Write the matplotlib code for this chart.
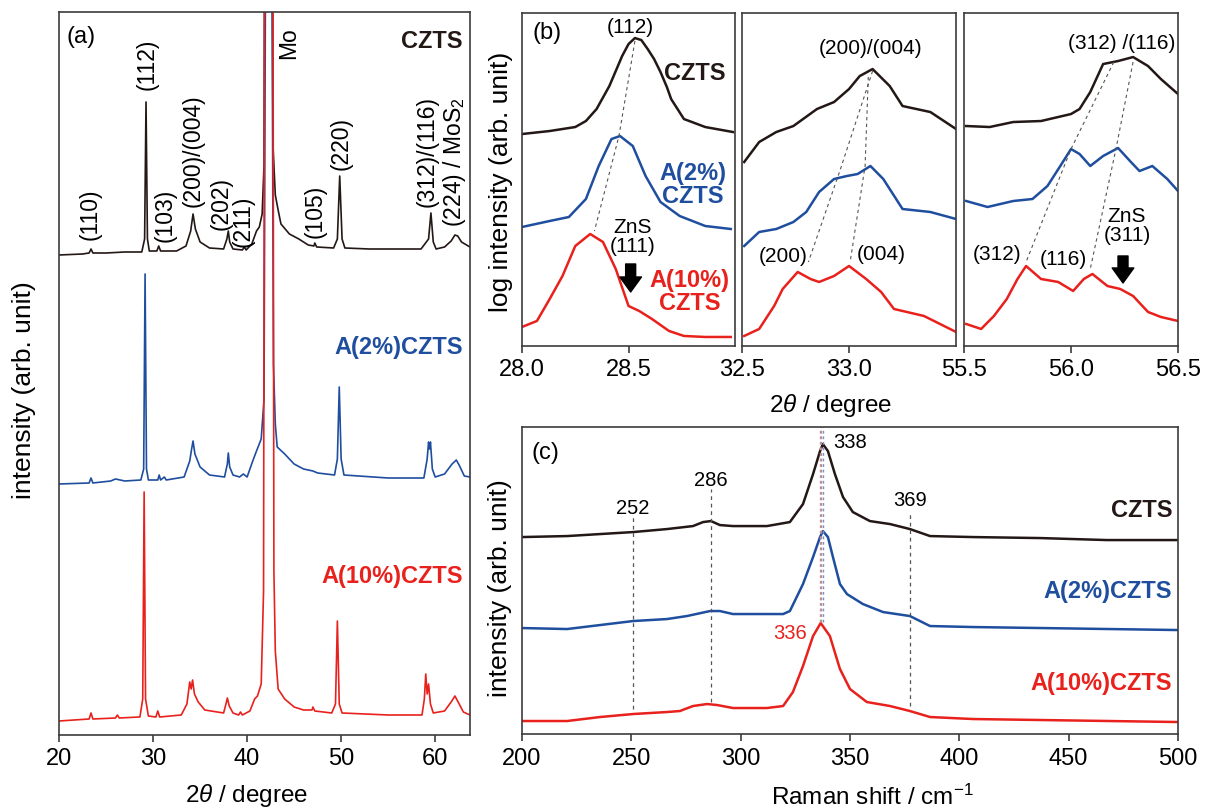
import matplotlib.pyplot as plt

plt.rcParams['font.family'] = ['Liberation Sans', 'DejaVu Sans']
plt.rcParams['mathtext.fontset'] = 'custom'
plt.rcParams['mathtext.rm'] = 'Liberation Sans'
plt.rcParams['mathtext.it'] = 'Liberation Sans:italic'

BLACK = '#231815'
BLUE = '#1f4e9f'
RED = '#e8211d'
SPINE = '#3c3c3c'
GUIDE = '#555555'

samples = ['CZTS', 'A(2%)CZTS', 'A(10%)CZTS']
colors = [BLACK, BLUE, RED]

# (a) XRD, intensity above background (arb.)
tt_czts = [20.0, 22.5, 23.2, 23.4, 23.6, 25.0, 27.0, 28.8, 29.1, 29.25, 29.4, 29.6, 30.4, 30.6, 30.8,
           32.5, 33.5, 34.0, 34.25, 34.5, 35.0, 36.0, 37.5, 37.85, 38.0, 38.15, 38.5, 39.5, 39.7, 39.9,
           40.5, 41.0, 41.3, 41.6, 41.8, 41.88, 42.65, 42.75, 43.0, 43.3, 43.6, 44.5, 45.5, 46.5, 47.1,
           47.2, 47.4, 49.2, 49.6, 49.85, 50.1, 50.4, 53.0, 56.0, 58.5, 59.3, 59.55, 59.8, 60.1, 61.0,
           61.7, 62.1, 62.4, 62.8, 63.7]
int_czts = [0, 1, 2, 6, 2, 2, 3, 3, 16, 153, 16, 4, 4, 9, 4,
            4, 9, 24, 41, 26, 13, 7, 6, 16, 24, 13, 6, 5, 8, 5,
            11, 24, 28, 41, 90, 400, 400, 110, 60, 45, 31, 21, 16, 10, 9,
            12, 8, 7, 16, 79, 16, 7, 6, 6, 6, 16, 42, 13, 6, 8,
            14, 20, 19, 13, 8]

tt_a2 = [20.0, 23.2, 23.4, 23.6, 25.5, 26.0, 27.0, 28.7, 29.0, 29.15, 29.3, 29.5, 30.5, 30.65, 30.8,
         31.2, 31.4, 33.3, 33.9, 34.1, 34.25, 34.45, 35.0, 36.0, 37.6, 37.9, 38.0, 38.15, 38.5, 39.2,
         39.6, 40.0, 40.6, 41.0, 41.5, 41.8, 41.95, 42.65, 42.8, 43.0, 43.2, 44.0, 45.0, 46.0, 47.0,
         47.5, 49.3, 49.6, 49.8, 50.0, 50.3, 55.0, 58.8, 59.15, 59.3, 59.4, 59.5, 59.7, 60.0, 61.0,
         61.8, 62.25, 62.6, 63.1, 63.7]
int_a2 = [0, 1, 6, 1, 3, 5, 3, 4, 15, 210, 15, 4, 4, 9, 4,
          7, 4, 7, 23, 35, 43, 30, 17, 9, 7, 20, 31, 17, 9, 7,
          10, 7, 23, 33, 45, 85, 500, 500, 120, 60, 37, 30, 20, 15, 13,
          11, 9, 25, 97, 25, 9, 6, 6, 25, 42, 35, 42, 15, 7, 10,
          20, 24, 18, 8, 7]

tt_a10 = [20.0, 23.2, 23.4, 23.6, 26.0, 26.2, 26.4, 28.6, 28.9, 29.05, 29.2, 29.5, 30.3, 30.5, 30.7,
          33.0, 33.6, 33.9, 34.05, 34.2, 34.4, 34.8, 35.5, 37.5, 37.75, 37.9, 38.1, 38.5, 39.1, 39.3,
          39.5, 40.3, 40.8, 41.1, 41.5, 41.75, 41.85, 42.75, 42.85, 43.0, 43.3, 44.0, 45.0, 46.0, 46.9,
          47.0, 47.2, 49.0, 49.4, 49.6, 49.8, 50.1, 55.0, 58.6, 58.85, 59.0, 59.15, 59.3, 59.5, 59.8,
          61.0, 61.7, 62.1, 62.5, 63.0, 63.7]
int_a10 = [0, 2, 8, 2, 3, 6, 3, 4, 22, 229, 22, 5, 4, 10, 4,
           6, 17, 39, 32, 41, 27, 19, 11, 8, 17, 23, 15, 8, 6, 9,
           6, 10, 22, 25, 37, 130, 760, 760, 150, 70, 32, 22, 14, 11, 11,
           14, 10, 8, 17, 100, 17, 8, 6, 6, 22, 47, 27, 37, 17, 8,
           10, 19, 25, 18, 9, 6]
xrd_offsets = [480, 251, 14]

xrd_peaks = ['(110)', '(112)', '(103)', '(200)/(004)', '(202)', '(211)', '(105)', '(220)',
             '(312)/(116)', '(224) / MoS$_2$']
xrd_peak_x = [23.3, 29.35, 31.3, 34.3, 37.2, 39.6, 47.2, 50.0, 59.1, 62.1]
xrd_peak_y = [496, 646, 494, 529, 506, 489, 498, 566, 529, 509]

# (b) zoomed XRD windows, log intensity (arb.)
b1_x_czts = [28.00, 28.13, 28.25, 28.30, 28.35, 28.41, 28.44, 28.47, 28.50, 28.53, 28.56, 28.59,
             28.62, 28.65, 28.68, 28.70, 28.73, 28.76, 28.86, 28.99]
b1_y_czts = [212, 215, 219, 225, 237, 260, 275, 290, 302, 308, 306, 297, 287, 274, 259, 247, 237,
             227, 219, 214]
b1_x_a2 = [28.00, 28.13, 28.22, 28.30, 28.36, 28.42, 28.46, 28.52, 28.58, 28.65, 28.74, 28.86, 28.98]
b1_y_a2 = [119, 125, 129, 147, 180, 207, 210, 200, 170, 144, 130, 120, 117]
b1_x_a10 = [28.00, 28.07, 28.13, 28.19, 28.25, 28.32, 28.38, 28.44, 28.50, 28.55, 28.61, 28.69,
            28.76, 28.86, 28.98]
b1_y_a10 = [19, 25, 47, 70, 100, 112, 104, 77, 40, 35, 27, 15, 10, 9, 9]

b2_x_czts = [32.51, 32.58, 32.66, 32.74, 32.85, 32.93, 33.00, 33.05, 33.11, 33.19, 33.25, 33.38, 33.50]
b2_y_czts = [184, 204, 214, 220, 237, 244, 257, 270, 277, 260, 240, 234, 217]
b2_x_a2 = [32.51, 32.58, 32.66, 32.74, 32.80, 32.86, 32.93, 32.99, 33.04, 33.10, 33.16, 33.25,
           33.38, 33.50]
b2_y_a2 = [100, 114, 117, 124, 134, 154, 167, 170, 172, 180, 167, 137, 134, 127]
b2_x_a10 = [32.51, 32.58, 32.65, 32.69, 32.76, 32.82, 32.86, 32.93, 33.00, 33.08, 33.15, 33.21,
            33.35, 33.50]
b2_y_a10 = [10, 17, 40, 57, 74, 67, 64, 70, 80, 67, 54, 37, 30, 14]

b3_x_czts = [55.51, 55.62, 55.73, 55.86, 56.00, 56.04, 56.09, 56.15, 56.22, 56.29, 56.36, 56.42, 56.50]
b3_y_czts = [220, 219, 224, 225, 232, 237, 254, 282, 285, 289, 280, 267, 252]
b3_x_a2 = [55.51, 55.61, 55.73, 55.82, 55.89, 55.95, 56.00, 56.04, 56.09, 56.15, 56.22, 56.28,
           56.32, 56.38, 56.45, 56.50]
b3_y_a2 = [145, 139, 145, 147, 160, 180, 197, 192, 180, 190, 198, 184, 175, 180, 167, 155]
b3_x_a10 = [55.51, 55.58, 55.64, 55.70, 55.75, 55.79, 55.86, 55.94, 56.01, 56.06, 56.10, 56.17,
            56.23, 56.29, 56.36, 56.42, 56.50]
b3_y_a10 = [22, 17, 30, 47, 67, 80, 67, 64, 55, 67, 72, 60, 57, 50, 34, 29, 25]

# peak-shift guide lines (peak positions of each sample)
b1_guide_x = [28.53, 28.455, 28.34]
b1_guide_y = [305, 210, 115]
b2_guide_a_x = [33.11, 32.96, 32.81]
b2_guide_a_y = [275, 177, 84]
b2_guide_b_x = [33.09, 33.075, 33.005]
b2_guide_b_y = [269, 180, 84]
b3_guide_a_x = [56.20, 56.00, 55.79]
b3_guide_a_y = [284, 197, 84]
b3_guide_b_x = [56.29, 56.21, 56.09]
b3_guide_b_y = [284, 197, 77]

# (c) Raman
raman_czts = [200, 220.6, 235.7, 250.8, 266.3, 278.2, 282.8, 286.4, 290.5, 296.5, 312.0, 322.5,
              328.5, 333.1, 336.3, 337.6, 339.9, 343.1, 346.8, 351.3, 359.1, 368.3, 377.4, 386.6,
              406.2, 436.9, 467.5, 500]
ram_int_czts = [197, 198, 200, 202, 205, 208, 212, 213, 209, 208, 208, 212,
                230, 260, 283, 290, 283, 260, 237, 222, 213, 210, 205, 198,
                197, 196, 194, 194]
raman_a2 = [200, 220.6, 235.7, 250.8, 266.3, 275.4, 286.0, 290.5, 296.5, 305.7, 319.4, 322.5,
            328.5, 333.1, 336.3, 337.6, 339.9, 342.2, 345.4, 348.6, 355.9, 365.1, 377.4, 386.6,
            406.2, 500]
ram_int_a2 = [106, 105, 109, 113, 115, 118, 123, 123, 120, 120, 120, 123,
              150, 177, 197, 203, 197, 177, 150, 140, 130, 122, 118, 108,
              107, 104]
raman_a10 = [200, 220.6, 235.7, 250.8, 266.3, 272.2, 278.2, 284.6, 289.2, 296.5, 312.0, 319.4,
             323.9, 328.5, 333.1, 336.6, 340.8, 345.4, 350.0, 357.7, 368.3, 377.4, 386.6, 406.2, 500]
ram_int_a10 = [13, 13, 17, 20, 22, 23, 28, 30, 29, 26, 26, 28,
               42, 68, 98, 111, 98, 65, 45, 32, 28, 23, 17, 15, 12]

raman_marks = [250.8, 286.4, 377.4]
raman_mark_lo = [25, 32, 28]
raman_mark_hi = [217, 245, 222]
raman_mark_text = ['252', '286', '369']
raman_mark_text_y = [227, 255, 235]


def frame(ax):
    for sp in ax.spines.values():
        sp.set_color(SPINE)
        sp.set_linewidth(1.2)
    ax.set_yticks([])
    ax.tick_params(axis='x', direction='out', length=5, width=1.2, color=SPINE,
                   labelsize=17, pad=4)


def block_arrow(ax, x, y_tail, y_tip):
    ax.annotate('', xy=(x, y_tip), xytext=(x, y_tail),
                arrowprops=dict(arrowstyle='simple,head_length=0.9,head_width=1.3,tail_width=0.6',
                                mutation_scale=12, fc='black', ec='black',
                                shrinkA=0, shrinkB=0))


def main() -> None:
    fig = plt.figure(figsize=(12.05, 8.12), dpi=100)

    # ---------------- (a) ----------------
    ax_a = fig.add_axes([0.049, 0.0936, 0.341, 0.8904])
    frame(ax_a)
    xs = [tt_czts, tt_a2, tt_a10]
    ys = [int_czts, int_a2, int_a10]
    for x, y, off, c in zip(xs, ys, xrd_offsets, colors):
        ax_a.plot(x, [v + off for v in y], color=c, lw=1.2)
    ax_a.set_xlim(20, 63.7)
    ax_a.set_ylim(0, 723)
    ax_a.set_xticks([20, 30, 40, 50, 60])
    for lab, x, y in zip(xrd_peaks, xrd_peak_x, xrd_peak_y):
        ax_a.text(x, y, lab, rotation=90, ha='center', va='bottom', fontsize=16.5)
    ax_a.text(44.4, 709, 'Mo', rotation=90, ha='center', va='top', fontsize=16.5)
    ax_a.text(0.019, 0.967, '(a)', transform=ax_a.transAxes, fontsize=17, va='center')
    for lab, c, fy in zip(samples, colors, [0.961, 0.538, 0.22]):
        ax_a.text(0.983, fy, lab, transform=ax_a.transAxes, ha='right', va='center',
                  fontsize=17, fontweight='bold', color=c)
    ax_a.set_xlabel(r'2$\it{\theta}$ / degree', fontsize=17.5)
    ax_a.xaxis.set_label_coords(0.457, -0.063)
    ax_a.set_ylabel('intensity (arb. unit)', fontsize=19)
    ax_a.yaxis.set_label_coords(-0.055, 0.479)

    # ---------------- (b) ----------------
    b_bottom, b_height = 0.5727, 0.410
    ax_b1 = fig.add_axes([0.4332, b_bottom, 0.1768, b_height])
    ax_b2 = fig.add_axes([0.6158, b_bottom, 0.1776, b_height])
    ax_b3 = fig.add_axes([0.8000, b_bottom, 0.1776, b_height])
    b_sets = [
        (ax_b1, [b1_x_czts, b1_x_a2, b1_x_a10], [b1_y_czts, b1_y_a2, b1_y_a10], (28.0, 29.0),
         [28.0, 28.5], ['28.0', '28.5']),
        (ax_b2, [b2_x_czts, b2_x_a2, b2_x_a10], [b2_y_czts, b2_y_a2, b2_y_a10], (32.5, 33.5),
         [32.5, 33.0], ['32.5', '33.0']),
        (ax_b3, [b3_x_czts, b3_x_a2, b3_x_a10], [b3_y_czts, b3_y_a2, b3_y_a10], (55.5, 56.5),
         [55.5, 56.0, 56.5], ['55.5', '56.0', '56.5']),
    ]
    for ax, bx, by, lim, ticks, labels in b_sets:
        frame(ax)
        for x, y, c in zip(bx, by, colors):
            ax.plot(x, y, color=c, lw=1.8)
        ax.set_xlim(*lim)
        ax.set_ylim(0, 333)
        ax.set_xticks(ticks)
        ax.set_xticklabels(labels)

    guide = dict(color=GUIDE, lw=0.8, ls=(0, (3, 3)))
    ax_b1.plot(b1_guide_x, b1_guide_y, **guide)
    ax_b2.plot(b2_guide_a_x, b2_guide_a_y, **guide)
    ax_b2.plot(b2_guide_b_x, b2_guide_b_y, **guide)
    ax_b3.plot(b3_guide_a_x, b3_guide_a_y, **guide)
    ax_b3.plot(b3_guide_b_x, b3_guide_b_y, **guide)

    ax_b1.text(0.047, 0.943, '(b)', transform=ax_b1.transAxes, fontsize=17, va='center')
    ax_b1.text(28.51, 320, '(112)', ha='center', va='center', fontsize=15)
    ax_b1.text(28.955, 274, 'CZTS', ha='right', va='center', fontsize=17,
               fontweight='bold', color=BLACK)
    ax_b1.text(28.96, 162, 'A(2%)\nCZTS', ha='right', va='center', fontsize=17,
               fontweight='bold', color=BLUE, multialignment='center', linespacing=1.0)
    ax_b1.text(28.975, 55, 'A(10%)\nCZTS', ha='right', va='center', fontsize=17,
               fontweight='bold', color=RED, multialignment='center', linespacing=1.0)
    ax_b1.text(28.52, 110, 'ZnS\n(111)', ha='center', va='center', fontsize=15,
               linespacing=1.0)
    block_arrow(ax_b1, 28.51, 82, 54)

    ax_b2.text(33.1, 299, '(200)/(004)', ha='center', va='center', fontsize=15)
    ax_b2.text(32.69, 90, '(200)', ha='center', va='center', fontsize=15)
    ax_b2.text(33.15, 92, '(004)', ha='center', va='center', fontsize=15)
    ax_b2.set_xlabel(r'2$\it{\theta}$ / degree', fontsize=17.5)
    ax_b2.xaxis.set_label_coords(0.416, -0.135)

    ax_b3.text(56.235, 304, '(312) /(116)', ha='center', va='center', fontsize=15)
    ax_b3.text(55.655, 92, '(312)', ha='center', va='center', fontsize=15)
    ax_b3.text(55.965, 87, '(116)', ha='center', va='center', fontsize=15)
    ax_b3.text(56.262, 121, 'ZnS\n(311)', ha='center', va='center', fontsize=15,
               linespacing=1.0)
    block_arrow(ax_b3, 56.243, 90, 63)

    ax_b1.set_ylabel('log intensity (arb. unit)', fontsize=19)
    ax_b1.yaxis.set_label_coords(-0.042, 0.495)

    # ---------------- (c) ----------------
    ax_c = fig.add_axes([0.4332, 0.0948, 0.5444, 0.378])
    frame(ax_c)
    rx = [raman_czts, raman_a2, raman_a10]
    ry = [ram_int_czts, ram_int_a2, ram_int_a10]
    for x, y, c in zip(rx, ry, colors):
        ax_c.plot(x, y, color=c, lw=1.8)
    ax_c.set_xlim(200, 500)
    ax_c.set_ylim(0, 307)
    ax_c.set_xticks([200, 250, 300, 350, 400, 450, 500])

    for x, lo, hi, lab, ty in zip(raman_marks, raman_mark_lo, raman_mark_hi,
                                  raman_mark_text, raman_mark_text_y):
        ax_c.plot([x, x], [lo, hi], color=GUIDE, lw=0.9, ls=(0, (3, 3)))
        ax_c.text(x, ty, lab, ha='center', va='center', fontsize=14.5)
    for x, c in zip([336.2, 336.9, 337.6], ['#f08080', '#999999', '#7d8fc8']):
        ax_c.plot([x, x], [112, 307], color=c, lw=1.0, ls=(0, (2, 2)))
    ax_c.text(342.2, 293, '338', ha='left', va='center', fontsize=14.5)
    ax_c.text(330.5, 102, '336', ha='right', va='center', fontsize=14.5, color=RED)

    ax_c.text(0.015, 0.918, '(c)', transform=ax_c.transAxes, fontsize=17, va='center')
    for lab, c, fy in zip(samples, colors, [0.733, 0.466, 0.169]):
        ax_c.text(0.991, fy, lab, transform=ax_c.transAxes, ha='right', va='center',
                  fontsize=17, fontweight='bold', color=c)
    ax_c.set_xlabel('Raman shift / cm$^{-1}$', fontsize=17.5)
    ax_c.xaxis.set_label_coords(0.534, -0.163)
    ax_c.set_ylabel('intensity (arb. unit)', fontsize=19)
    ax_c.yaxis.set_label_coords(-0.015, 0.48)

    fig.savefig('out.png', dpi=100)


if __name__ == "__main__":
    main()
